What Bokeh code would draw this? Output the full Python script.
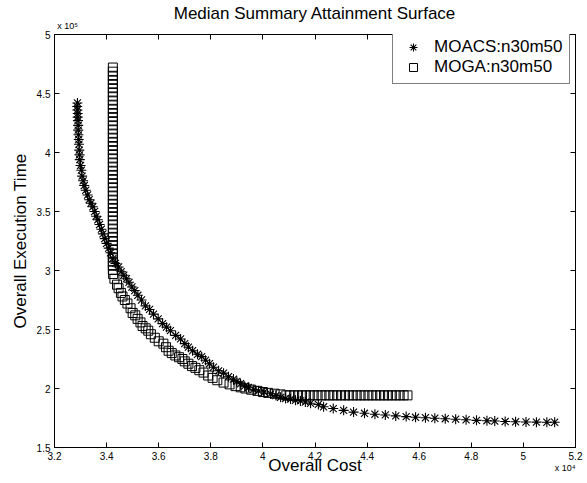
from bokeh.plotting import figure
from bokeh.models import Range1d, FixedTicker, LinearAxis, Legend, LegendItem
from bokeh.embed import file_html
from bokeh.resources import INLINE

# ---- data (cost in units of 1e4, time in units of 1e5) ----
moacs_cost = [3.288, 3.287, 3.288, 3.289, 3.289, 3.290, 3.291, 3.291, 3.292, 3.293, 3.294, 3.295, 3.296, 3.297,
              3.300, 3.303, 3.306, 3.310, 3.314, 3.320, 3.327, 3.333, 3.340, 3.347, 3.354, 3.360, 3.366, 3.373,
              3.380, 3.386, 3.393, 3.400, 3.408, 3.415, 3.424, 3.434, 3.446, 3.456, 3.466, 3.476, 3.486, 3.497,
              3.508, 3.520, 3.534, 3.549, 3.565, 3.580, 3.598, 3.615, 3.630, 3.645, 3.665, 3.684, 3.700, 3.714,
              3.730, 3.749, 3.765, 3.780, 3.795, 3.810, 3.830, 3.849, 3.868, 3.887, 3.900, 3.914, 3.930, 3.945,
              3.965, 3.983, 4.005, 4.030, 4.050, 4.068, 4.087, 4.106, 4.125, 4.144, 4.163, 4.183, 4.213, 4.233,
              4.27, 4.31, 4.348, 4.39, 4.43, 4.47, 4.51, 4.55, 4.586, 4.624, 4.66, 4.70, 4.74, 4.78, 4.82, 4.86,
              4.89, 4.93, 4.97, 5.01, 5.05, 5.09, 5.12]
moacs_time = [4.42, 4.39, 4.36, 4.33, 4.30, 4.27, 4.23, 4.19, 4.15, 4.11, 4.07, 4.02, 3.98, 3.94,
              3.89, 3.85, 3.80, 3.76, 3.72, 3.68, 3.64, 3.60, 3.57, 3.54, 3.50, 3.46, 3.43, 3.39,
              3.35, 3.31, 3.27, 3.23, 3.19, 3.15, 3.10, 3.06, 3.03, 2.99, 2.96, 2.93, 2.90, 2.86,
              2.83, 2.79, 2.75, 2.70, 2.67, 2.63, 2.59, 2.55, 2.52, 2.49, 2.45, 2.42, 2.38, 2.35,
              2.32, 2.29, 2.27, 2.24, 2.21, 2.18, 2.15, 2.13, 2.10, 2.08, 2.06, 2.04, 2.02, 2.01,
              1.99, 1.98, 1.97, 1.955, 1.94, 1.925, 1.915, 1.91, 1.90, 1.895, 1.885, 1.875, 1.865, 1.845,
              1.83, 1.815, 1.80, 1.79, 1.782, 1.776, 1.768, 1.762, 1.756, 1.752, 1.748, 1.744, 1.740, 1.735, 1.730, 1.727,
              1.724, 1.720, 1.718, 1.716, 1.715, 1.714, 1.714]

moga_cost = [3.424, 3.424, 3.424, 3.424, 3.424, 3.424, 3.424, 3.424, 3.424, 3.424,
             3.424, 3.424, 3.424, 3.424, 3.424, 3.424, 3.424, 3.424, 3.424, 3.424,
             3.424, 3.424, 3.424, 3.424, 3.424, 3.424, 3.424, 3.424, 3.424, 3.424,
             3.424, 3.424, 3.424, 3.424, 3.424, 3.424, 3.424, 3.424, 3.424, 3.424,
             3.424, 3.424, 3.424, 3.424, 3.424, 3.424, 3.424, 3.424, 3.424, 3.424, 3.425,
             3.43, 3.44, 3.446, 3.455, 3.461, 3.47, 3.48, 3.492, 3.50, 3.51, 3.519, 3.53, 3.538,
             3.55, 3.56, 3.57, 3.585, 3.60, 3.618, 3.628, 3.638, 3.65, 3.664, 3.678, 3.691, 3.70,
             3.714, 3.728, 3.741, 3.756, 3.772, 3.79, 3.807, 3.825, 3.849, 3.872, 3.895, 3.915,
             3.933, 3.955, 3.979, 4.0, 4.02, 4.045, 4.068,
             4.09, 4.105, 4.12, 4.135, 4.15, 4.165, 4.18, 4.195, 4.21, 4.225, 4.24, 4.255, 4.27,
             4.285, 4.30, 4.315, 4.33, 4.345, 4.36, 4.375, 4.39, 4.405, 4.42, 4.435, 4.45, 4.465,
             4.48, 4.495, 4.51, 4.525, 4.54, 4.555]
moga_time = [4.72, 4.685, 4.65, 4.615, 4.58, 4.545, 4.51, 4.475, 4.44, 4.405,
             4.37, 4.335, 4.30, 4.265, 4.23, 4.195, 4.16, 4.125, 4.09, 4.055,
             4.02, 3.985, 3.95, 3.915, 3.88, 3.845, 3.81, 3.775, 3.74, 3.705,
             3.67, 3.635, 3.60, 3.565, 3.53, 3.495, 3.46, 3.425, 3.39, 3.355,
             3.32, 3.285, 3.25, 3.215, 3.18, 3.145, 3.11, 3.075, 3.04, 3.005, 2.97,
             2.93, 2.88, 2.85, 2.81, 2.78, 2.75, 2.72, 2.68, 2.64, 2.62, 2.59, 2.56, 2.53,
             2.51, 2.49, 2.46, 2.43, 2.40, 2.38, 2.35, 2.32, 2.30, 2.28, 2.265, 2.25, 2.23,
             2.21, 2.19, 2.175, 2.155, 2.135, 2.11, 2.09, 2.07, 2.05, 2.035, 2.02, 2.01,
             2.0, 1.99, 1.98, 1.97, 1.963, 1.956, 1.95,
             1.942, 1.942, 1.942, 1.942, 1.942, 1.942, 1.942, 1.942, 1.942, 1.942, 1.942, 1.942, 1.942,
             1.942, 1.942, 1.942, 1.942, 1.942, 1.942, 1.942, 1.942, 1.942, 1.942, 1.942, 1.942, 1.942,
             1.942, 1.942, 1.942, 1.942, 1.942, 1.942]

x_ticks = [3.2, 3.4, 3.6, 3.8, 4.0, 4.2, 4.4, 4.6, 4.8, 5.0, 5.2]
x_tick_labels = ["3.2", "3.4", "3.6", "3.8", "4", "4.2", "4.4", "4.6", "4.8", "5", "5.2"]
y_ticks = [1.5, 2.0, 2.5, 3.0, 3.5, 4.0, 4.5, 5.0]
y_tick_labels = ["1.5", "2", "2.5", "3", "3.5", "4", "4.5", "5"]

title_text = "Median Summary Attainment Surface"
x_label = "Overall Cost"
y_label = "Overall Execution Time"
x_exponent = "x 10\u2074"
y_exponent = "x 10\u2075"
series_names = ["MOACS:n30m50", "MOGA:n30m50"]

FONT = "Liberation Sans"

p = figure(width=587, height=483, output_backend="svg", toolbar_location=None, title=None,
           x_range=Range1d(3.2, 5.2), y_range=Range1d(1.5, 5.0),
           min_border_left=54, min_border_right=12, min_border_top=32, min_border_bottom=36,
           x_axis_type=None, y_axis_type=None)
p.background_fill_color = "white"
p.border_fill_color = "white"
p.outline_line_color = "black"
p.outline_line_width = 1
p.xgrid.visible = False
p.ygrid.visible = False


def tick_axis(ticks, labels, show_labels):
    ax = LinearAxis(ticker=FixedTicker(ticks=ticks))
    ax.major_label_overrides = {t: (l if show_labels else "") for t, l in zip(ticks, labels)}
    ax.major_tick_in = 5
    ax.major_tick_out = 0
    ax.minor_tick_in = 0
    ax.minor_tick_out = 0
    ax.axis_line_color = "black"
    ax.major_tick_line_color = "black"
    ax.major_label_text_font = FONT
    ax.major_label_text_color = "black"
    ax.major_label_text_font_size = "10px" if show_labels else "0px"
    ax.major_label_standoff = 4 if show_labels else 0
    ax.axis_label_text_font = FONT
    ax.axis_label_text_font_size = "17px"
    ax.axis_label_text_font_style = "normal"
    ax.axis_label_text_color = "black"
    return ax


def exponent_axis(tick, text, label, label_standoff, standoff):
    ax = LinearAxis(ticker=FixedTicker(ticks=[tick]))
    ax.major_label_overrides = {tick: text}
    ax.axis_line_color = None
    ax.major_tick_line_color = None
    ax.minor_tick_line_color = None
    ax.major_tick_in = 0
    ax.major_tick_out = 0
    ax.major_label_text_font = FONT
    ax.major_label_text_font_size = "9px"
    ax.major_label_text_color = "black"
    ax.major_label_standoff = standoff
    ax.axis_label = label
    ax.axis_label_standoff = label_standoff
    ax.axis_label_text_font = FONT
    ax.axis_label_text_font_size = "17px"
    ax.axis_label_text_font_style = "normal"
    ax.axis_label_text_color = "black"
    return ax


bottom = tick_axis(x_ticks, x_tick_labels, True)
left = tick_axis(y_ticks, y_tick_labels, True)
left.axis_label = y_label
left.axis_label_standoff = 4
top = tick_axis(x_ticks, x_tick_labels, False)
right = tick_axis(y_ticks, y_tick_labels, False)

p.add_layout(bottom, "below")
p.add_layout(exponent_axis(5.16, x_exponent, x_label, -20, 0), "below")
p.add_layout(left, "left")
p.add_layout(top, "above")
p.add_layout(exponent_axis(3.25, y_exponent, title_text, -5, 4), "above")
p.add_layout(right, "right")

r1 = p.scatter(moacs_cost, moacs_time, marker="asterisk", size=10, line_color="black", line_width=1.1)
r2 = p.scatter(moga_cost, moga_time, marker="square", size=9, line_color="black", line_width=1,
               fill_color=None)

legend = Legend(items=[LegendItem(label=series_names[0], renderers=[r1]),
                       LegendItem(label=series_names[1], renderers=[r2])],
                location=(338, 363))
legend.margin = 0
legend.padding = 6
legend.spacing = 0
legend.glyph_width = 28
legend.glyph_height = 20
legend.label_height = 20
legend.label_standoff = 7
legend.label_text_font = FONT
legend.label_text_font_size = "17px"
legend.label_text_color = "black"
legend.border_line_color = "black"
legend.border_line_width = 1
legend.background_fill_color = "white"
legend.background_fill_alpha = 1
p.add_layout(legend, "center")

open("out.html", "w").write(file_html(p, INLINE))
